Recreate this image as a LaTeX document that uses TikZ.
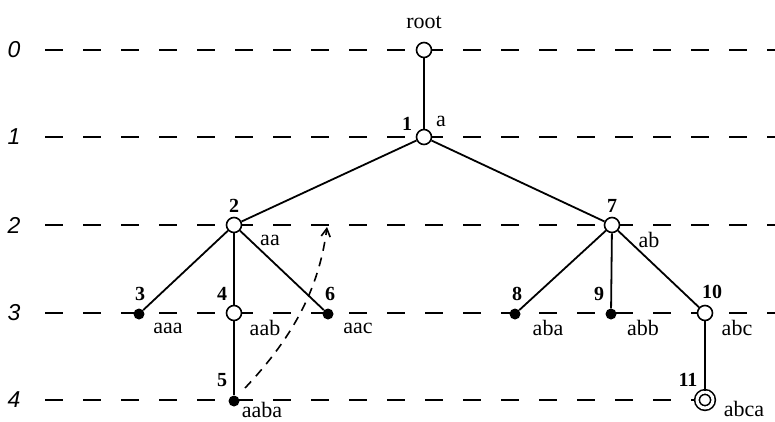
\documentclass[tikz,border=0pt]{standalone}
\usepackage{fontspec}
\setmainfont{Liberation Serif}
\newfontfamily\lvlfont{Liberation Sans}
\usetikzlibrary{arrows.meta}
\begin{document}
\begin{tikzpicture}[x=1pt,y=-1pt,
  levline/.style={line width=1.8pt, dash pattern=on 18pt off 20pt},
  edge/.style={line width=1.8pt},
  opennode/.style={circle, draw, line width=1.6pt, fill=white, inner sep=0pt, minimum size=15pt},
  fullnode/.style={circle, fill=black, inner sep=0pt, minimum size=11pt},
  finalnode/.style={circle, draw, line width=1.6pt, fill=white, double, double distance=3pt, inner sep=0pt, minimum size=16pt},
  num/.style={font=\fontsize{20}{20}\selectfont\bfseries, inner sep=0pt},
  lab/.style={font=\fontsize{22}{22}\selectfont, inner sep=0pt},
  lvl/.style={font=\fontsize{23}{23}\selectfont\lvlfont\itshape, inner sep=0pt}]
\useasboundingbox (0,0) rectangle (775,421);
% level labels and dashed lines
\node[lvl] (l0) at (14,50) {0};
\node[lvl] (l1) at (14,137) {1};
\node[lvl] (l2) at (14,225) {2};
\node[lvl] (l3) at (14,313) {3};
\node[lvl] (l4) at (14,400) {4};
\coordinate (e0) at (775,50);
\coordinate (e1) at (775,137);
\coordinate (e2) at (775,225);
\coordinate (e3) at (775,313);
\draw[levline] (45,50) -- (e0);
\draw[levline] (45,137) -- (e1);
\draw[levline] (45,225) -- (e2);
\draw[levline] (45,313) -- (e3);
\draw[levline] (45,400) -- (700,400);
% nodes
\node[opennode] (r) at (424,50) {};
\node[opennode] (n1) at (424,137) {};
\node[opennode] (n2) at (234,225) {};
\node[opennode] (n7) at (612,225) {};
\node[fullnode] (n3) at (139,314) {};
\node[opennode] (n4) at (234,313) {};
\node[fullnode] (n6) at (328,314) {};
\node[fullnode] (n5) at (234,401) {};
\node[fullnode] (n8) at (515,314) {};
\node[fullnode] (n9) at (611,314) {};
\node[opennode] (n10) at (705,313) {};
\node[finalnode] (n11) at (705,400) {};
% edges
\draw[edge] (r) -- (n1);
\draw[edge] (n1) -- (n2);
\draw[edge] (n1) -- (n7);
\draw[edge] (n2) -- (n3);
\draw[edge] (n2) -- (n4);
\draw[edge] (n2) -- (n6);
\draw[edge] (n4) -- (n5);
\draw[edge] (n7) -- (n8);
\draw[edge] (n7) -- (n9);
\draw[edge] (n7) -- (n10);
\draw[edge] (n10) -- (n11);
% dashed arrow
\coordinate (as) at (245,388);
\coordinate (ae) at (327,227);
\draw[line width=1.6pt, dash pattern=on 9pt off 7pt, -{Straight Barb[length=8pt,width=9pt]}] (as) .. controls (300,330) and (320,280) .. (ae);
% labels
\node[lab] (tr) at (424,22) {root};
\node[num] (t1) at (407,124) {1};
\node[lab] (ta) at (441,121) {a};
\node[num] (t2) at (234,206) {2};
\node[lab] (taa) at (270,240) {aa};
\node[num] (t7) at (612,206) {7};
\node[lab] (tab) at (649,240) {ab};
\node[num] (t3) at (140,294) {3};
\node[lab] (taaa) at (168,328) {aaa};
\node[num] (t4) at (222,294) {4};
\node[lab] (taab) at (265,328) {aab};
\node[num] (t6) at (330,294) {6};
\node[lab] (taac) at (358,328) {aac};
\node[num] (t5) at (222,380) {5};
\node[lab] (taaba) at (262,410) {aaba};
\node[num] (t8) at (517,294) {8};
\node[lab] (taba) at (548,328) {aba};
\node[num] (t9) at (599,294) {9};
\node[lab] (tabb) at (643,328) {abb};
\node[num] (t10) at (712,292) {10};
\node[lab] (tabc) at (737,328) {abc};
\node[num] (t11) at (688,380) {11};
\node[lab] (tabca) at (744,409) {abca};
\end{tikzpicture}
\end{document}
